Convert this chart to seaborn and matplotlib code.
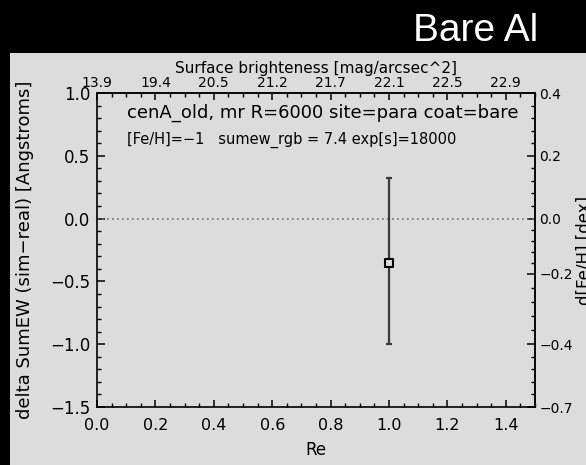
import numpy as np
import pandas as pd
import matplotlib
matplotlib.use("Agg")
import matplotlib.pyplot as plt
from matplotlib.patches import Rectangle
import seaborn as sns

# ---- data ----
re_vals = [1.0]
dsumew = [-0.35]
err_low = [0.65]
err_high = [0.67]

re_ticks = [0.0, 0.2, 0.4, 0.6, 0.8, 1.0, 1.2, 1.4]
sb_labels = ["13.9", "19.4", "20.5", "21.2", "21.7", "22.1", "22.5", "22.9"]

feh_tick_pos = [1.0, 0.5, 0.0, -0.44, -1.0, -1.5]
feh_labels = ["0.4", "0.2", "0.0", "\u22120.2", "\u22120.4", "\u22120.7"]

title1 = "cenA_old, mr R=6000 site=para coat=bare"
title2 = "[Fe/H]=\u22121   sumew_rgb = 7.4 exp[s]=18000"

df = pd.DataFrame({"Re": re_vals, "dSumEW": dsumew})

sns.set_theme(style="ticks")
plt.rcParams["font.family"] = ["DejaVu Sans"]

panel = "#dcdcdc"
W, H = 586, 465
fig = plt.figure(figsize=(W / 100, H / 100), dpi=100, facecolor="black")
bg = Rectangle((10 / W, 0), 1 - 10 / W, 1 - 53 / H, transform=fig.transFigure,
               facecolor=panel, edgecolor="none", zorder=-10)
fig.patches.append(bg)
fig.text(538 / W, 1 - 41 / H, "Bare Al", color="white", fontsize=28,
         family="Liberation Sans", ha="right", va="baseline")

ax = fig.add_axes([97 / W, 1 - 407 / H, (535 - 97) / W, (407 - 93) / H])
ax.set_facecolor(panel)
ax.set_xlim(0.0, 1.5)
ax.set_ylim(-1.5, 1.0)

ax.axhline(0.0, color="#707070", lw=1.2, ls=(0, (1, 2)), zorder=1)

ax.errorbar(re_vals, dsumew, yerr=[err_low, err_high], fmt="none",
            ecolor="#3a3a3a", elinewidth=1.6, capsize=2.5, capthick=1.6, zorder=2)
sns.scatterplot(data=df, x="Re", y="dSumEW", ax=ax, marker="s", s=36,
                facecolor=panel, edgecolor="black", linewidth=1.5, zorder=3)

for s in ax.spines.values():
    s.set_color("black")
    s.set_linewidth(1.2)
    s.set_visible(True)

ax.set_xticks(re_ticks)
ax.set_xticklabels([f"{v:.1f}" for v in re_ticks])
ax.set_xticks(np.arange(0.0, 1.5001, 0.05), minor=True)
ax.set_yticks([1.0, 0.5, 0.0, -0.5, -1.0, -1.5])
ax.set_yticklabels(["1.0", "0.5", "0.0", "\u22120.5", "\u22121.0", "\u22121.5"])
ax.set_yticks(np.arange(-1.5, 1.0001, 0.1), minor=True)

ax.tick_params(axis="x", which="major", direction="in", length=5, width=1.1,
               labelsize=11.5, pad=8, colors="black", bottom=True, top=False)
ax.tick_params(axis="x", which="minor", direction="in", length=3, width=1.0,
               bottom=True, top=False, colors="black")
ax.tick_params(axis="y", which="major", direction="in", length=6, width=1.1,
               labelsize=12, pad=5, colors="black", left=True, right=False)
ax.tick_params(axis="y", which="minor", direction="in", length=3, width=1.0,
               left=True, right=False, colors="black")

ax.set_xlabel("Re", fontsize=12, color="black")
ax.xaxis.set_label_coords(0.5, (407 - 450) / (407 - 93))
ax.xaxis.label.set_va("center")
ax.set_ylabel("delta SumEW (sim\u2212real) [Angstroms]", fontsize=13, color="black")
ax.yaxis.label.set_va("center")
ax.yaxis.set_label_coords((25 - 97) / (535 - 97), 0.5)

# top axis
top = ax.secondary_xaxis("top")
top.set_xticks(re_ticks)
top.set_xticklabels(sb_labels)
top.set_xticks(np.arange(0.0, 1.5001, 0.05), minor=True)
top.tick_params(axis="x", which="major", direction="in", length=5, width=1.1,
                labelsize=10, pad=2, colors="black")
top.tick_params(axis="x", which="minor", direction="in", length=3, width=1.0, colors="black")
top.spines["top"].set_linewidth(1.2)
top.set_xlabel("Surface brighteness [mag/arcsec^2]", fontsize=11, color="black", labelpad=2)

# right axis
right = ax.secondary_yaxis("right")
right.set_yticks(feh_tick_pos)
right.set_yticklabels(feh_labels)
minor_r = []
for a, b in zip(feh_tick_pos[:-1], feh_tick_pos[1:]):
    minor_r.extend(list(np.linspace(a, b, 6)[1:-1]))
right.set_yticks(minor_r, minor=True)
right.tick_params(axis="y", which="major", direction="in", length=6, width=1.1,
                  labelsize=10, pad=3, colors="black")
right.tick_params(axis="y", which="minor", direction="in", length=3, width=1.0, colors="black")
right.spines["right"].set_linewidth(1.2)
fig.text(585 / W, 0.5 * ((465 - 93) + (465 - 407)) / H, "d[Fe/H] [dex]", rotation=90,
         fontsize=12, ha="center", va="center", color="black")

x0 = (127 - 97) / 438 * 1.5
ax.text(x0, 0.845, title1, fontsize=13, color="black", ha="left", va="center")
ax.text(x0, 0.63, title2, fontsize=10.5, color="black", ha="left", va="center")

fig.savefig("out.png", dpi=100, facecolor=fig.get_facecolor())
